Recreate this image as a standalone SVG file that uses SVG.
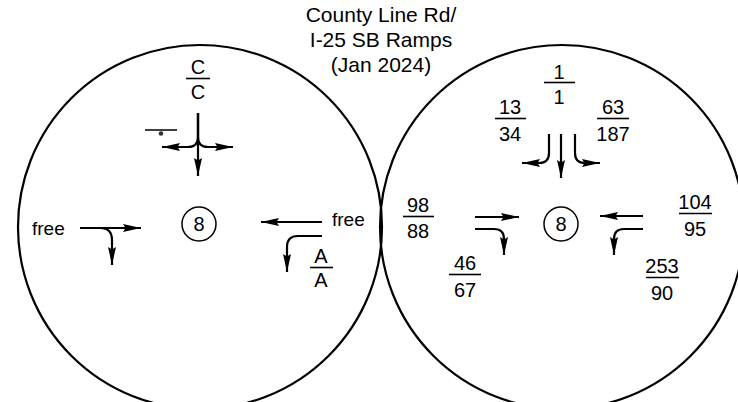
<svg xmlns="http://www.w3.org/2000/svg" width="738" height="402" viewBox="0 0 738 402">
<defs>
<marker id="ah" markerUnits="userSpaceOnUse" markerWidth="19" markerHeight="9" refX="18" refY="4.5" orient="auto">
<path d="M0,0.5 L18,4.5 L0,8.5 L2.5,4.5 Z" fill="#000"/>
</marker>
<style>
text{font-family:"Liberation Sans",Arial,sans-serif;fill:#000}
.t{font-size:21px;text-anchor:middle}
.n{font-size:20px;text-anchor:middle}
.f{font-size:19px}
.ring{fill:none;stroke:#000;stroke-width:2.2}
.bar{stroke:#000;stroke-width:1.6}
.mv{fill:none;stroke:#000;stroke-width:2.2;marker-end:url(#ah)}
.nd{fill:#fff;stroke:#000;stroke-width:1.5}
</style>
</defs>
<rect width="738" height="402" fill="#fff"/>
<g id="title">
<text class="t" x="381" y="22">County Line Rd/</text>
<text class="t" x="381" y="47">I-25 SB Ramps</text>
<text class="t" x="381" y="72">(Jan 2024)</text>
</g>
<g id="circles">
<circle class="ring" cx="200" cy="227" r="182"/>
<circle class="ring" cx="562" cy="227" r="182"/>
</g>
<g id="node-left">
<circle class="nd" cx="199" cy="224" r="17"/>
<text class="n" x="199" y="231">8</text>
</g>
<g id="node-right">
<circle class="nd" cx="561" cy="224" r="17"/>
<text class="n" x="561" y="231">8</text>
</g>
<g id="labels-left">
<text class="n" x="198" y="74">C</text>
<line class="bar" x1="186" y1="78.5" x2="210" y2="78.5"/>
<text class="n" x="198" y="99">C</text>
<text class="f" x="32" y="235">free</text>
<text class="f" x="332" y="226">free</text>
<text class="n" x="321" y="263">A</text>
<line class="bar" x1="310" y1="267.5" x2="333" y2="267.5"/>
<text class="n" x="321" y="287">A</text>
<line x1="145" y1="130" x2="177" y2="130" stroke="#000" stroke-width="1.5"/>
<circle cx="161" cy="133.5" r="2.3" fill="#333"/>
</g>
<g id="labels-right">
<text class="n" x="559" y="79">1</text>
<line class="bar" x1="544" y1="82.5" x2="575" y2="82.5"/>
<text class="n" x="559" y="104">1</text>
<text class="n" x="510" y="113.5">13</text>
<line class="bar" x1="495" y1="118.5" x2="526" y2="118.5"/>
<text class="n" x="510" y="141">34</text>
<text class="n" x="613" y="113.5">63</text>
<line class="bar" x1="597" y1="118.5" x2="629" y2="118.5"/>
<text class="n" x="613" y="141">187</text>
<text class="n" x="418" y="211.5">98</text>
<line class="bar" x1="403" y1="216.5" x2="434" y2="216.5"/>
<text class="n" x="418" y="238">88</text>
<text class="n" x="465" y="269.5">46</text>
<line class="bar" x1="449" y1="274.5" x2="481" y2="274.5"/>
<text class="n" x="465" y="297">67</text>
<text class="n" x="695" y="208.5">104</text>
<line class="bar" x1="679" y1="213.5" x2="712" y2="213.5"/>
<text class="n" x="695" y="236">95</text>
<text class="n" x="662" y="272.5">253</text>
<line class="bar" x1="646" y1="277.5" x2="679" y2="277.5"/>
<text class="n" x="662" y="300">90</text>
</g>
<g id="connectors">
<path class="mv" d="M198,113 V176"/>
<path class="mv" d="M198,113 V137 Q198,147 188,147 H162"/>
<path class="mv" d="M198,113 V137 Q198,147 208,147 H233"/>
<path class="mv" d="M80,228 H141"/>
<path class="mv" d="M100,228 Q112,228 112,240 V265"/>
<path class="mv" d="M322,222 H261"/>
<path class="mv" d="M322,236 H298 Q287,236 287,247 V272"/>
<path class="mv" d="M561,134 V178"/>
<path class="mv" d="M549,134 V153 Q549,163 539,163 H522"/>
<path class="mv" d="M575,134 V153 Q575,163 585,163 H600"/>
<path class="mv" d="M475,217 H519"/>
<path class="mv" d="M475,229 H494 Q504,229 504,239 V255"/>
<path class="mv" d="M643,216 H600"/>
<path class="mv" d="M643,229 H624 Q614,229 614,239 V255"/>
</g>
</svg>
